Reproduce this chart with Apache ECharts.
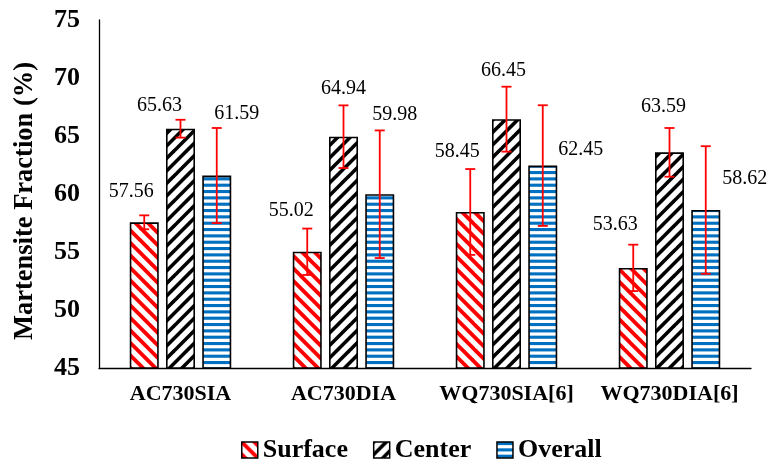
<!DOCTYPE html>
<html>
<head>
<meta charset="utf-8">
<script src="https://cdn.jsdelivr.net/npm/echarts@6/dist/echarts.min.js"></script>
<style>html,body{margin:0;padding:0;background:#fff;}#c{width:769px;height:460px;}</style>
</head>
<body>
<div id="c"></div>
<script>
// ---- data ----
const categories = ['AC730SIA', 'AC730DIA', 'WQ730SIA[6]', 'WQ730DIA[6]'];
const seriesNames = ['Surface', 'Center', 'Overall'];
const surface = [57.56, 55.02, 58.45, 53.63];
const center = [65.63, 64.94, 66.45, 63.59];
const overall = [61.59, 59.98, 62.45, 58.62];
const surfaceErr = [0.6, 2.0, 3.7, 2.0];
const centerErr = [0.77, 2.7, 2.8, 2.1];
const overallErr = [4.1, 5.5, 5.2, 5.5];
const yMin = 45, yMax = 75, yStep = 5;
const yTitle = 'Martensite Fraction (%)';

// ---- styling (label placement offsets, pixels relative to bar top centre) ----
const surfaceLabelOffsets = [[-13, -31], [-16, -41], [-13, -60], [-18, -43]];
const centerLabelOffsets = [[-21, -23], [0, -48], [-3, -48], [-6, -46]];
const overallLabelOffsets = [[20, -62], [15, -79], [38, -16], [39, -31]];

const FONT = "'Liberation Serif', 'Times New Roman', serif";
const BAR_W = 29, GAP_RATIO = 0.25;
const STEP = BAR_W * (1 + GAP_RATIO);

function diagPattern(color, dir, period, lw) {
  const P = Math.round(period * 2);
  const cv = document.createElement('canvas');
  cv.width = P; cv.height = P;
  const ctx = cv.getContext('2d');
  ctx.fillStyle = '#fff';
  ctx.fillRect(0, 0, P, P);
  ctx.strokeStyle = color;
  ctx.lineWidth = lw;
  for (let k = -3; k <= 3; k++) {
    const c = k * P / 2;
    ctx.beginPath();
    if (dir === 'back') {
      ctx.moveTo(-P, -P + c); ctx.lineTo(2 * P, 2 * P + c);
    } else {
      ctx.moveTo(-P, 2 * P + c); ctx.lineTo(2 * P, -P + c);
    }
    ctx.stroke();
  }
  return { image: cv, repeat: 'repeat' };
}
function hPattern(color) {
  const H = 19, W = 8;
  const cv = document.createElement('canvas');
  cv.width = W; cv.height = H;
  const ctx = cv.getContext('2d');
  ctx.fillStyle = '#fff';
  ctx.fillRect(0, 0, W, H);
  ctx.fillStyle = color;
  for (let k = 0; k < 3; k++) {
    ctx.fillRect(0, k * H / 3, W, 3.1);
  }
  return { image: cv, repeat: 'repeat' };
}

const patterns = [
  diagPattern('#ff0000', 'back', 12.5, 3.8),
  diagPattern('#000000', 'fwd', 12.5, 3.6),
  hPattern('#0070c0')
];

function barSeries(name, values, offsets, pat) {
  return {
    type: 'bar', name: name,
    barWidth: BAR_W, barGap: (GAP_RATIO * 100) + '%',
    itemStyle: { color: pat, borderColor: '#000', borderWidth: 1.6 },
    label: {
      show: true, position: 'top', distance: 0,
      fontFamily: FONT, fontSize: 20, lineHeight: 20, color: '#000',
      formatter: p => p.value.toFixed(2)
    },
    data: values.map((v, i) => ({
      value: v,
      label: { offset: [offsets[i][0], offsets[i][1] + 10] }
    })),
    z: 2
  };
}

function errSeries(name, values, errs, pos) {
  return {
    type: 'custom', name: name + ' err',
    encode: { x: 0, y: 1 },
    data: values.map((v, i) => [i, v, errs[i]]),
    z: 10, silent: true,
    renderItem: function (params, api) {
      const i = api.value(0), v = api.value(1), e = api.value(2);
      const t = api.coord([i, v + e]);
      const b = api.coord([i, v - e]);
      const x = t[0] + pos * STEP;
      const cap = 5;
      const st = { stroke: '#ff0000', lineWidth: 1.8 };
      return {
        type: 'group',
        children: [
          { type: 'line', shape: { x1: x, y1: t[1], x2: x, y2: b[1] }, style: st },
          { type: 'line', shape: { x1: x - cap, y1: t[1], x2: x + cap, y2: t[1] }, style: st },
          { type: 'line', shape: { x1: x - cap, y1: b[1], x2: x + cap, y2: b[1] }, style: st }
        ]
      };
    }
  };
}

const chart = echarts.init(document.getElementById('c'), null, { renderer: 'canvas' });
chart.setOption({
  animation: false,
  backgroundColor: '#fff',
  grid: { left: 99, right: 18, top: 20, bottom: 92 },
  legend: {
    data: seriesNames,
    left: 236, top: 432,
    itemWidth: 16, itemHeight: 16, itemGap: 25,
    icon: 'rect',
    itemStyle: { borderColor: '#000', borderWidth: 1.5 },
    textStyle: { fontFamily: FONT, fontSize: 26, fontWeight: 'bold', color: '#000' }
  },
  xAxis: {
    type: 'category', data: categories,
    axisLine: { lineStyle: { color: '#000', width: 1.3 } },
    axisTick: { show: false },
    axisLabel: { interval: 0, margin: 15, fontFamily: FONT, fontSize: 22, fontWeight: 'bold', color: '#000' }
  },
  yAxis: {
    type: 'value', min: yMin, max: yMax, interval: yStep,
    name: yTitle, nameLocation: 'middle', nameGap: 60,
    nameTextStyle: { fontFamily: FONT, fontSize: 26.5, fontWeight: 'bold', color: '#000', padding: [0, 14, 0, 0] },
    axisLine: { show: true, lineStyle: { color: '#000', width: 1.3 } },
    axisTick: { show: false },
    splitLine: { show: false },
    axisLabel: { margin: 19, fontFamily: FONT, fontSize: 26, fontWeight: 'bold', color: '#000' }
  },
  series: [
    barSeries(seriesNames[0], surface, surfaceLabelOffsets, patterns[0]),
    barSeries(seriesNames[1], center, centerLabelOffsets, patterns[1]),
    barSeries(seriesNames[2], overall, overallLabelOffsets, patterns[2]),
    errSeries(seriesNames[0], surface, surfaceErr, -1),
    errSeries(seriesNames[1], center, centerErr, 0),
    errSeries(seriesNames[2], overall, overallErr, 1)
  ]
});
</script>
</body>
</html>
